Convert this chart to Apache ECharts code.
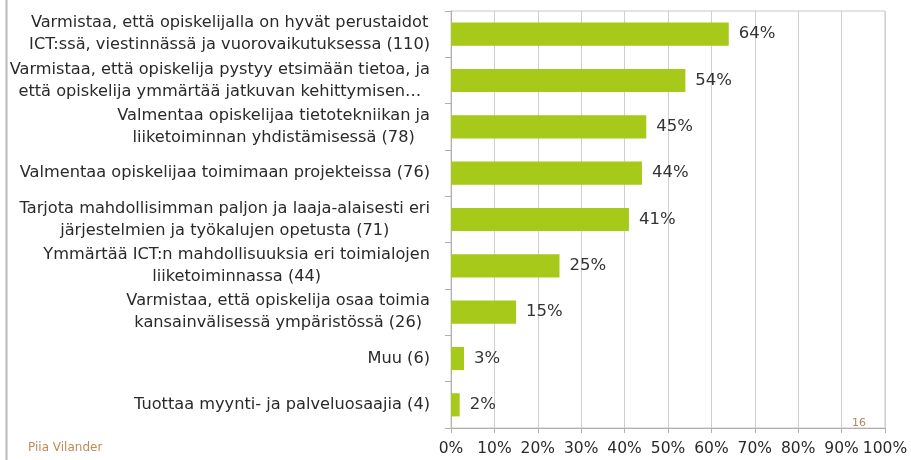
<!DOCTYPE html>
<html>
<head>
<meta charset="utf-8">
<script src="https://cdn.jsdelivr.net/npm/echarts@6/dist/echarts.min.js"></script>
<style>
  html, body { margin: 0; padding: 0; background: #fff; }
  #main { width: 911px; height: 460px; }
</style>
</head>
<body>
<div id="main"></div>
<script>
// categories (top to bottom), with line breaks as in the slide
var categories = [
  'Varmistaa, että opiskelijalla on hyvät perustaidot\nICT:ssä, viestinnässä ja vuorovaikutuksessa (110)',
  'Varmistaa, että opiskelija pystyy etsimään tietoa, ja\nettä opiskelija ymmärtää jatkuvan kehittymisen…',
  'Valmentaa opiskelijaa tietotekniikan ja\nliiketoiminnan yhdistämisessä (78)',
  'Valmentaa opiskelijaa toimimaan projekteissa (76)',
  'Tarjota mahdollisimman paljon ja laaja-alaisesti eri\njärjestelmien ja työkalujen opetusta (71)',
  'Ymmärtää ICT:n mahdollisuuksia eri toimialojen\nliiketoiminnassa (44)',
  'Varmistaa, että opiskelija osaa toimia\nkansainvälisessä ympäristössä (26)',
  'Muu (6)',
  'Tuottaa myynti- ja palveluosaajia (4)'
];
var percents = [64, 54, 45, 44, 41, 25, 15, 3, 2];
var footerAuthor = 'Piia Vilander';
var pageNumber = '16';

var myChart = echarts.init(document.getElementById('main'));
var option = {
    animation: false,
    textStyle: { fontFamily: 'DejaVu Sans' },
    grid: { left: 451, right: 26, top: 11, bottom: 32, show: true, borderColor: '#c8c8c8', borderWidth: 1 },
    xAxis: {
        type: 'value',
        min: 0,
        max: 100,
        interval: 10,
        axisLine: { show: true, lineStyle: { color: '#b0b0b0' } },
        axisTick: { show: true, length: 5, lineStyle: { color: '#b0b0b0' } },
        splitLine: { show: true, lineStyle: { color: '#cfcfcf' } },
        axisLabel: { formatter: '{value}%', color: '#2a2a2a', fontSize: 15.5, margin: 13 }
    },
    yAxis: {
        type: 'category',
        inverse: true,
        data: categories,
        axisLine: { show: true, lineStyle: { color: '#b0b0b0' } },
        axisTick: { show: true, length: 6, lineStyle: { color: '#b0b0b0' } },
        axisLabel: {
            color: '#2a2a2a', fontSize: 16.2, lineHeight: 22, align: 'right', margin: 21,
            // lines centred inside the right-aligned block, like the slide
            formatter: function (v) {
                return v.split('\n').map(function (s) { return '{c|' + s + '}'; }).join('\n');
            },
            rich: {
                c: { align: 'center', color: '#2a2a2a', fontSize: 16.2, lineHeight: 22, fontFamily: 'DejaVu Sans' }
            }
        }
    },
    series: [
        {
            type: 'bar',
            data: percents,
            barCategoryGap: '50%',
            itemStyle: { color: '#a6c91a' },
            label: { show: true, position: 'right', distance: 10, formatter: '{c}%', color: '#333', fontSize: 16.5 }
        }
    ],
    graphic: [
        { type: 'line', shape: { x1: 6.5, y1: 0, x2: 6.5, y2: 460 }, style: { stroke: '#b8b8b8', lineWidth: 2 } },
        { type: 'text', left: 28, top: 442, style: { text: footerAuthor, fill: '#c08a55', font: '12px "DejaVu Sans"' } },
        { type: 'text', left: 852, top: 418, style: { text: pageNumber, fill: '#b08a60', font: '11px "DejaVu Sans"' } }
    ]
};
myChart.setOption(option);
</script>
</body>
</html>
